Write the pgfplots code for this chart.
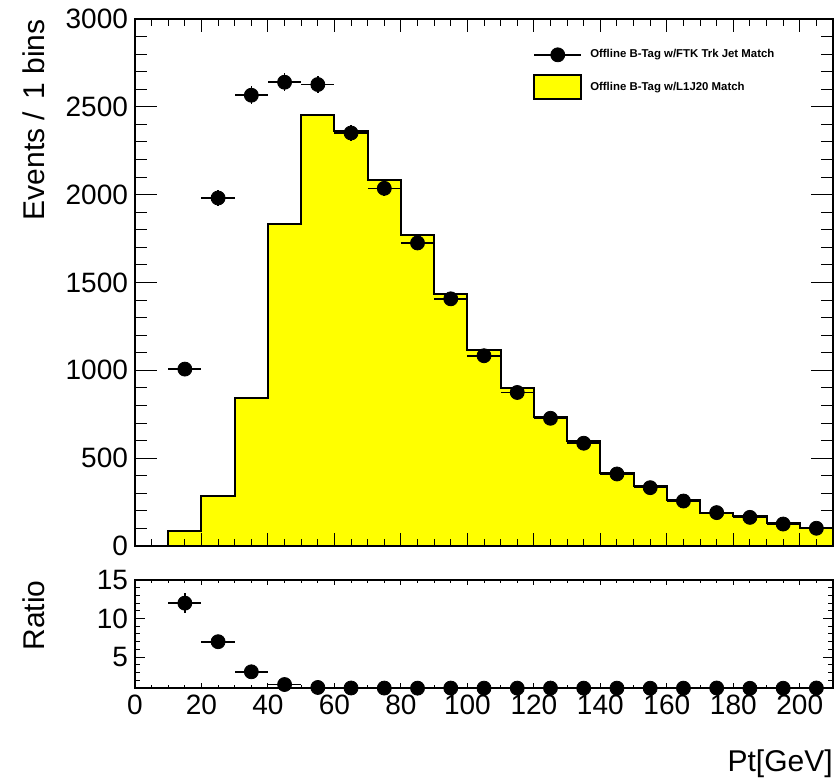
\documentclass[border=0pt]{standalone}
\usepackage{fontspec}
\setmainfont{Liberation Sans}
\usepackage{pgfplots}
\pgfplotsset{compat=1.18}
\definecolor{rootyellow}{RGB}{255,255,0}
\begin{document}
\begin{tikzpicture}
\pgfplotsset{
  rootstyle/.style={
    scale only axis, width=349pt,
    xmin=0, xmax=210,
    tick align=inside,
    xtick={0,20,...,200}, minor xtick={5,10,...,205},
    axis line style={line width=0.6pt},
    every tick/.style={black, line width=0.5pt},
    ticklabel style={font=\fontsize{14}{16}\selectfont},
    /pgf/number format/assume math mode=true,
    /pgf/number format/set thousands separator={},
    label style={font=\fontsize{15}{17}\selectfont},
  }
}
% ---------- top panel (data, y ticks) ----------
\begin{axis}[rootstyle, name=top, at={(0,0)}, anchor=south west, height=263.5pt,
  ymin=0, ymax=3000, ytick={0,500,...,3000}, minor ytick={100,200,...,2900},
  xtick=\empty, minor xtick={}, axis on top,
  major tick length=11pt, minor tick length=6pt,
  ylabel={Events /\hspace{2pt} 1 bins},
  ylabel style={at={(axis description cs:-0.129,1)}, anchor=south east, inner sep=0pt},
  legend style={at={(axis description cs:0.570,0.951)}, anchor=north west, draw=none, fill=none,
    font=\fontsize{5.7}{6.5}\selectfont\bfseries, row sep=5pt, column sep=2pt, inner sep=0pt},
  legend cell align=left,
]
\addplot[const plot, fill=rootyellow, draw=black, line width=1pt, forget plot] coordinates {
(0,0) (10,87) (20,285) (30,845) (40,1835) (50,2456) (60,2365) (70,2085) (80,1772) (90,1434)
(100,1117) (110,898) (120,737) (130,598) (140,418) (150,344) (160,262) (170,186) (180,171)
(190,129) (200,101) (210,101)} \closedcycle;
\addplot[only marks, mark=*, mark size=3.5pt, black,
  legend image code/.code={\draw[black, line width=0.8pt] (0pt,0pt)--(23.5pt,0pt); \fill[black] (11.75pt,0pt) circle (3.5pt);},
  error bars/.cd, x dir=both, x explicit, y dir=both, y explicit,
  error bar style={line width=0.8pt}, error mark=none]
  coordinates {
(15,1007) +- (5,32)
(25,1981) +- (5,45)
(35,2566) +- (5,51)
(45,2640) +- (5,51)
(55,2627) +- (5,51)
(65,2351) +- (5,48)
(75,2036) +- (5,45)
(85,1725) +- (5,42)
(95,1407) +- (5,38)
(105,1083) +- (5,33)
(115,874) +- (5,30)
(125,727) +- (5,27)
(135,585) +- (5,24)
(145,410) +- (5,20)
(155,332) +- (5,18)
(165,256) +- (5,16)
(175,190) +- (5,14)
(185,163) +- (5,13)
(195,125) +- (5,11)
(205,101) +- (5,10)
};
\addlegendentry{Offline B-Tag w/FTK Trk Jet Match}
\addlegendimage{legend image code/.code={\draw[fill=rootyellow, draw=black, line width=1pt] (0pt,-6pt) rectangle (23.5pt,6pt);}}
\addlegendentry{Offline B-Tag w/L1J20 Match}
\end{axis}
% ---------- top panel overlay (x ticks) ----------
\begin{axis}[rootstyle, at={(0,0)}, anchor=south west, height=263.5pt,
  ymin=0, ymax=3000, ytick=\empty, minor ytick={},
  xticklabels={},
  major tick length=6.5pt, minor tick length=3.5pt,
]
\end{axis}
% ---------- ratio panel (data, y ticks) ----------
\begin{axis}[rootstyle, name=bot, at={(0,-17pt)}, anchor=north west, height=54pt,
  ymin=1, ymax=15, ytick={5,10,15}, minor ytick={2,3,...,14}, clip=false,
  xtick=\empty, minor xtick={},
  major tick length=5pt, minor tick length=2.5pt,
  ylabel={Ratio},
  ylabel style={at={(axis description cs:-0.129,1)}, anchor=south east, inner sep=0pt},
]
\addplot[only marks, mark=*, mark size=3.5pt, black,
  error bars/.cd, x dir=both, x explicit, y dir=both, y explicit,
  error bar style={line width=0.8pt}, error mark=none]
  coordinates {
(15,12.0) +- (5,1.3)
(25,7.0) +- (5,0.44)
(35,3.1) +- (5,0.12)
(45,1.45) +- (5,0.04)
(55,1.07) +- (5,0.03)
(65,1.0) +- (5,0.03)
(75,0.99) +- (5,0.03)
(85,0.98) +- (5,0.03)
(95,0.99) +- (5,0.04)
(105,0.98) +- (5,0.04)
(115,0.98) +- (5,0.05)
(125,0.99) +- (5,0.05)
(135,0.98) +- (5,0.06)
(145,0.98) +- (5,0.07)
(155,0.97) +- (5,0.08)
(165,0.98) +- (5,0.09)
(175,1.0) +- (5,0.1)
(185,0.96) +- (5,0.1)
(195,0.97) +- (5,0.12)
(205,1.0) +- (5,0.14)
};
\end{axis}
% ---------- ratio panel overlay (x ticks, labels) ----------
\begin{axis}[rootstyle, at={(0,-17pt)}, anchor=north west, height=54pt,
  ymin=1, ymax=15, ytick=\empty, minor ytick={},
  major tick length=2.5pt, minor tick length=1.5pt,
  xlabel={Pt[GeV]},
  xlabel style={at={(axis description cs:1,0)}, anchor=north east, inner sep=0pt, yshift=-30.5pt},
]
\end{axis}
\pgfresetboundingbox
\path (-67.5pt,-116.5pt) rectangle (351.5pt,273pt);
\end{tikzpicture}
\end{document}
